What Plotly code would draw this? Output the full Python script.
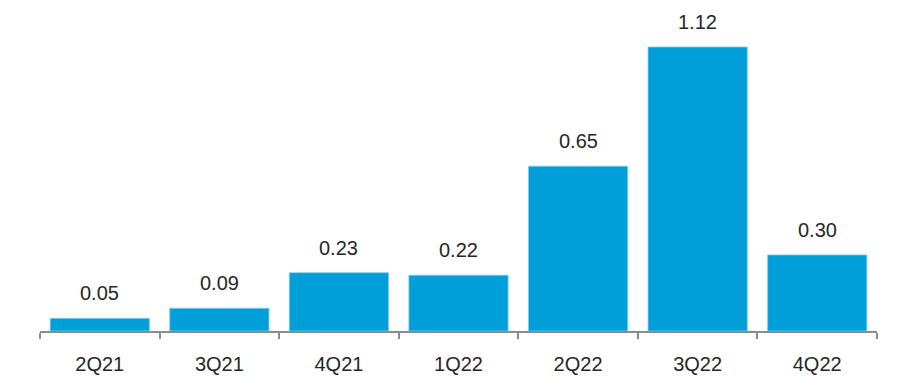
import plotly.graph_objects as go

# Quarterly values
quarters = ["2Q21", "3Q21", "4Q21", "1Q22", "2Q22", "3Q22", "4Q22"]
values = [0.05, 0.09, 0.23, 0.22, 0.65, 1.12, 0.30]
value_labels = ["0.05", "0.09", "0.23", "0.22", "0.65", "1.12", "0.30"]

BAR_COLOR = "#009FDA"
TEXT_COLOR = "#262626"
AXIS_COLOR = "#8C8C8C"
FONT = "Liberation Sans, Arial, sans-serif"

fig = go.Figure()
fig.add_trace(go.Bar(
    x=quarters,
    y=values,
    marker=dict(color=BAR_COLOR, line=dict(color="#7FD0EE", width=0.8)),
    hoverinfo="skip",
))

# Value labels above each bar
for q, v, t in zip(quarters, values, value_labels):
    fig.add_annotation(
        x=q, y=v, text=t, showarrow=False,
        yanchor="bottom", yshift=12,
        font=dict(family=FONT, size=20, color=TEXT_COLOR),
    )

fig.update_layout(
    width=898, height=377,
    margin=dict(l=40, r=21, t=14, b=46),
    paper_bgcolor="white", plot_bgcolor="white",
    showlegend=False,
    bargap=0.17,
    font=dict(family=FONT, size=20, color=TEXT_COLOR),
)
fig.update_xaxes(
    type="category",
    range=[-0.5, 6.5],
    showline=True, linecolor=AXIS_COLOR, linewidth=1.5,
    ticks="outside", tickson="boundaries", ticklen=6, tickcolor=AXIS_COLOR, tickwidth=1.5,
    ticklabelstandoff=14,
    automargin=False,
    showgrid=False, zeroline=False,
    tickfont=dict(family=FONT, size=20, color=TEXT_COLOR),
)
fig.update_yaxes(
    range=[0, 1.25],
    visible=False, showgrid=False, zeroline=False,
)

fig.write_html("out.html")
